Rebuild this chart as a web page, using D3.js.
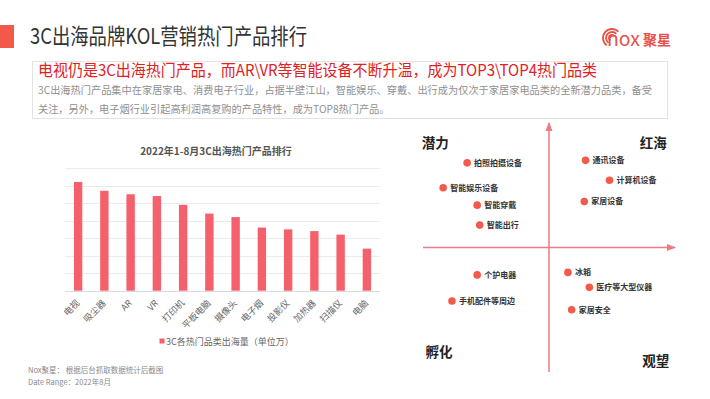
<!DOCTYPE html>
<html><head><meta charset="utf-8">
<script src="https://cdn.jsdelivr.net/npm/d3@7"></script>
<style>
html,body{margin:0;padding:0;background:#fff;}
svg text{font-family:"Noto Sans CJK SC","Noto Sans",sans-serif;}
</style></head>
<body><svg id="c" width="710" height="399"></svg>
<script>
// ---- data ----
const categories = ["电视","吸尘器","AR","VR","打印机","平板电脑","摄像头","电子烟","投影仪","加热器","扫描仪","电脑"];
const exportVolume = [6.2,5.7,5.5,5.4,4.9,4.4,4.2,3.6,3.5,3.4,3.2,2.4];
const yTicks = [0,1,2,3,4,5,6,7];
const seriesName = "3C各热门品类出海量（单位万）";
const chartTitle = "2022年1-8月3C出海热门产品排行";

const quadNames = ["潜力","红海","孵化","观望"];
const quadProducts = ["拍照拍摄设备","智能娱乐设备","智能穿戴","智能出行","通讯设备","计算机设备","家居设备","个护电器","手机配件等周边","冰箱","医疗等大型仪器","家居安全"];
const quadX = [-6.5,-8.4,-5.7,-5.5,2.9,4.8,2.8,-5.7,-7.7,1.5,3.2,1.8];
const quadY = [6.8,4.8,3.4,1.8,7.0,5.4,3.7,-2.2,-4.3,-2.0,-3.2,-5.0];

const pageTitle = "3C出海品牌KOL营销热门产品排行";
const headline = "电视仍是3C出海热门产品，而AR\\VR等智能设备不断升温，成为TOP3\\TOP4热门品类";
const descLines = ["3C出海热门产品集中在家居家电、消费电子行业，占据半壁江山，智能娱乐、穿戴、出行成为仅次于家居家电品类的全新潜力品类，备受",
                   "关注，另外，电子烟行业引起高利润高复购的产品特性，成为TOP8热门产品。"];
const footer = ["Nox聚星： 根据后台抓取数据统计后截图","Date Range：2022年8月"];

const svg = d3.select("#c");

// ---- header ----
svg.append("rect").attr("x",0).attr("y",25).attr("width",14).attr("height",23).attr("fill","#f2594b");
svg.append("text").attr("x",30).attr("y",43.5).attr("font-size",22).attr("fill","#333")
  .attr("textLength",277).attr("lengthAdjust","spacingAndGlyphs").text(pageTitle);

// logo
const logo = svg.append("g").attr("fill","none").attr("stroke","#e8514a").attr("stroke-width",1.8);
[3,6,9].forEach(r=>{
  logo.append("path").attr("d", d3.arc()({innerRadius:r,outerRadius:r,startAngle:-Math.PI*0.55,endAngle:Math.PI*0.5}))
    .attr("transform","translate(612,38) rotate(-45)");
});
svg.append("text").attr("x",607).attr("y",46).attr("font-size",19).attr("fill","#e8514a")
  .attr("font-family","DejaVu Sans").attr("textLength",33).attr("lengthAdjust","spacingAndGlyphs").text("nox");
svg.append("text").attr("x",643).attr("y",45).attr("font-size",14).attr("font-weight","bold").attr("fill","#e8514a").text("聚星");

// summary box
svg.append("rect").attr("x",32.5).attr("y",61.5).attr("width",635).attr("height",57)
  .attr("fill","#fff").attr("stroke","#e3e3e3");
svg.append("text").attr("x",38).attr("y",76).attr("font-size",16).attr("fill","#e0211f")
  .attr("textLength",559).attr("lengthAdjust","spacingAndGlyphs").text(headline);
svg.append("text").attr("x",38).attr("y",94).attr("font-size",10.2).attr("fill","#8f8f8f")
  .attr("textLength",614).attr("lengthAdjust","spacingAndGlyphs").text(descLines[0]);
svg.append("text").attr("x",38).attr("y",113).attr("font-size",10.2).attr("fill","#8f8f8f").text(descLines[1]);

// ---- bar chart ----
const x = d3.scaleBand().domain(categories).range([65,380]).paddingInner(0.68).paddingOuter(0.34);
const y = d3.scaleLinear().domain([0,7]).range([290.7,168]);

svg.append("text").attr("x",216).attr("y",154.5).attr("text-anchor","middle").attr("font-size",10)
  .attr("font-weight","bold").attr("fill","#555").text(chartTitle);

svg.append("g").selectAll("line").data(yTicks).join("line")
  .attr("x1",65).attr("x2",380).attr("y1",d=>Math.round(y(d))+0.5).attr("y2",d=>Math.round(y(d))+0.5)
  .attr("stroke",d=>d===0?"#d9d9d9":"#ebebeb").attr("stroke-width",1);

svg.append("g").selectAll("rect").data(categories).join("rect")
  .attr("x",d=>x(d)).attr("width",x.bandwidth())
  .attr("y",(d,i)=>y(exportVolume[i])).attr("height",(d,i)=>y(0)-y(exportVolume[i]))
  .attr("fill","#f4606c");

const xAxis = svg.append("g").attr("transform","translate(0,290.7)")
  .call(d3.axisBottom(x).tickSize(0).tickPadding(0));
xAxis.select(".domain").remove();
xAxis.selectAll("text").attr("font-size",9).attr("fill","#666")
  .attr("font-family","Noto Sans CJK SC")
  .attr("text-anchor","end").attr("dy",0).attr("y",0).attr("x",0)
  .attr("transform","translate(2,13) rotate(-45)");

svg.append("rect").attr("x",159.5).attr("y",338.5).attr("width",5).attr("height",5).attr("fill","#f4606c");
svg.append("text").attr("x",166).attr("y",344.5).attr("font-size",9).attr("fill","#666").text(seriesName);

// footer
svg.append("text").attr("x",28).attr("y",372.5).attr("font-size",7.5).attr("fill","#8a8a8a").text(footer[0]);
svg.append("text").attr("x",28).attr("y",385).attr("font-size",7.5).attr("fill","#8a8a8a").text(footer[1]);

// ---- quadrant ----
const qx = d3.scaleLinear().domain([-10,10]).range([423,675]);
const qy = d3.scaleLinear().domain([-10,10]).range([372,123]);
const axCol = "#ef7a86";
svg.append("defs").append("marker").attr("id","arr").attr("viewBox","0 0 10 10")
  .attr("refX",9).attr("refY",5).attr("markerWidth",6).attr("markerHeight",6).attr("orient","auto")
  .append("path").attr("d","M0,1 L10,5 L0,9 Z").attr("fill",axCol);
svg.append("line").attr("x1",qx(-10)).attr("x2",qx(10)).attr("y1",qy(0)).attr("y2",qy(0))
  .attr("stroke",axCol).attr("stroke-width",1.5).attr("marker-end","url(#arr)");
svg.append("line").attr("x1",qx(0)).attr("x2",qx(0)).attr("y1",qy(-10)).attr("y2",qy(10))
  .attr("stroke",axCol).attr("stroke-width",1.5).attr("marker-end","url(#arr)");

const qLabelPos = [[-10.1,8.0],[7.2,8.0],[-9.8,-8.8],[7.4,-9.5]];
svg.append("g").selectAll("text").data(quadNames).join("text")
  .attr("x",(d,i)=>qx(qLabelPos[i][0])).attr("y",(d,i)=>qy(qLabelPos[i][1]))
  .attr("font-size",13.5).attr("font-weight","bold").attr("fill","#222").text(d=>d);

const pts = svg.append("g").selectAll("g").data(quadProducts).join("g")
  .attr("transform",(d,i)=>`translate(${qx(quadX[i])},${qy(quadY[i])})`);
pts.append("circle").attr("r",3.8).attr("fill","#f25a4a");
pts.append("text").attr("x",7).attr("y",3).attr("font-size",8).attr("font-weight","bold")
  .attr("fill","#333").text(d=>d);
</script></body></html>
